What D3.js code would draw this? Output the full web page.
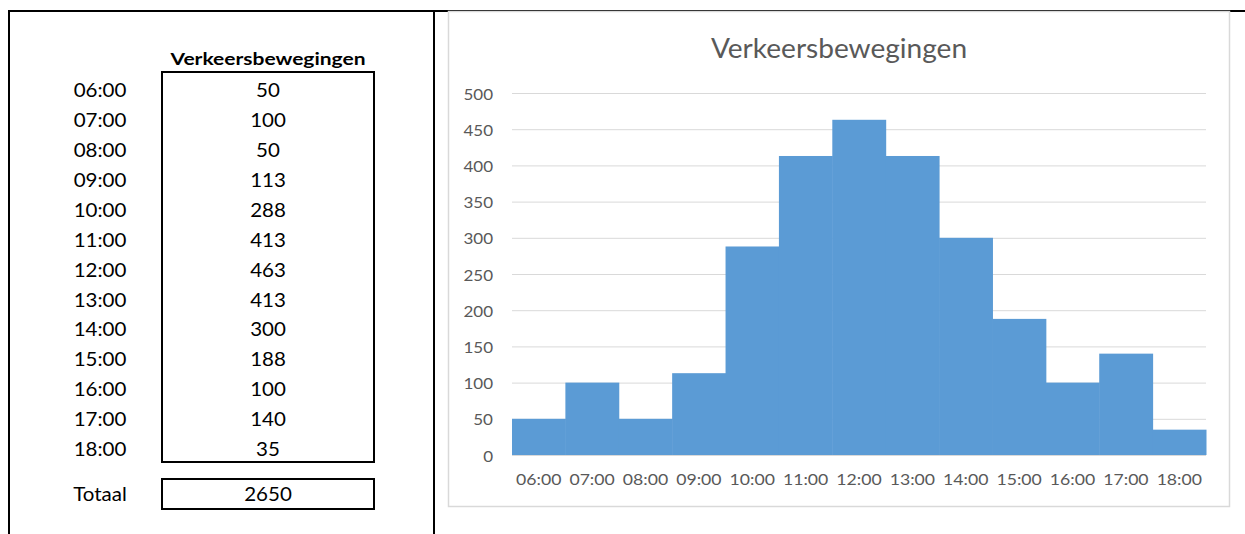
<!DOCTYPE html>
<html>
<head>
<meta charset="utf-8">
<script src="https://cdn.jsdelivr.net/npm/d3@7"></script>
<style>
  html, body { margin: 0; padding: 0; background: #fff; }
  svg { display: block; }
  text { font-family: Lato, "Open Sans", sans-serif; }
</style>
</head>
<body>
<svg id="chart" width="1245" height="534"></svg>
<script>
// Hourly traffic movements
const hours = ["06:00","07:00","08:00","09:00","10:00","11:00","12:00","13:00","14:00","15:00","16:00","17:00","18:00"];
const movements = [50, 100, 50, 113, 288, 413, 463, 413, 300, 188, 100, 140, 35];
const yTicks = [0, 50, 100, 150, 200, 250, 300, 350, 400, 450, 500];
const title = "Verkeersbewegingen";
const totalLabel = "Totaal";
const totalValue = 2650; // total as entered in the sheet

const svg = d3.select("#chart");

// place a text at (x, y) with a horizontal stretch
function place(sel, x, y, sx) {
  sel.attr("x", 0).attr("y", 0)
    .attr("transform", (d, i) => {
      const px = typeof x === "function" ? x(d, i) : x;
      const py = typeof y === "function" ? y(d, i) : y;
      return `translate(${px},${py}) scale(${sx},1)`;
    });
  return sel;
}

// ---- sheet frame lines ----
svg.append("line").attr("x1", 8).attr("x2", 1245).attr("y1", 11).attr("y2", 11)
  .attr("stroke", "#000").attr("stroke-width", 2);
svg.append("line").attr("x1", 9).attr("x2", 9).attr("y1", 10).attr("y2", 534)
  .attr("stroke", "#000").attr("stroke-width", 2);
svg.append("line").attr("x1", 434).attr("x2", 434).attr("y1", 10).attr("y2", 534)
  .attr("stroke", "#000").attr("stroke-width", 2);

// ---- table on the left ----
const table = svg.append("g");
const rowY = d3.scalePoint().domain(hours).range([90, 449]);
const tableFont = 18.5;
const tableStretch = 1.11;

table.append("text")
  .attr("text-anchor", "middle").attr("dominant-baseline", "central")
  .attr("font-weight", "bold").attr("font-size", 17.5).attr("fill", "#000")
  .text(title)
  .call(place, 268, 58, 1.2);

table.append("rect").attr("x", 162).attr("y", 72).attr("width", 212).attr("height", 390)
  .attr("fill", "none").attr("stroke", "#000").attr("stroke-width", 2);

table.selectAll("text.hour").data(hours).join("text")
  .attr("class", "hour")
  .attr("text-anchor", "middle").attr("dominant-baseline", "central")
  .attr("font-size", tableFont).attr("fill", "#000")
  .text(d => d)
  .call(place, 100, d => rowY(d), tableStretch);

table.selectAll("text.val").data(movements).join("text")
  .attr("class", "val")
  .attr("text-anchor", "middle").attr("dominant-baseline", "central")
  .attr("font-size", tableFont).attr("fill", "#000")
  .text(d => d)
  .call(place, 268, (d, i) => rowY(hours[i]), tableStretch);

table.append("rect").attr("x", 162).attr("y", 479).attr("width", 212).attr("height", 30)
  .attr("fill", "none").attr("stroke", "#000").attr("stroke-width", 2);
table.append("text")
  .attr("text-anchor", "middle").attr("dominant-baseline", "central")
  .attr("font-size", tableFont).attr("fill", "#000").text(totalLabel)
  .call(place, 100, 494, tableStretch);
table.append("text")
  .attr("text-anchor", "middle").attr("dominant-baseline", "central")
  .attr("font-size", tableFont).attr("fill", "#000").text(totalValue)
  .call(place, 268, 494, tableStretch);

// ---- chart on the right ----
svg.append("rect").attr("x", 448.5).attr("y", 11.5).attr("width", 781).attr("height", 495)
  .attr("fill", "#fff").attr("stroke", "#d9d9d9").attr("stroke-width", 1.5);

const plot = { left: 512, right: 1206, top: 93, bottom: 455 };
const x = d3.scaleBand().domain(hours).range([plot.left, plot.right]).padding(0);
const y = d3.scaleLinear().domain([0, 500]).range([plot.bottom, plot.top]);

const g = svg.append("g");

// gridlines
g.append("g").attr("transform", `translate(${plot.left},0)`)
  .call(d3.axisLeft(y).tickValues(yTicks).tickSize(-(plot.right - plot.left)).tickFormat(""))
  .call(s => s.select(".domain").remove())
  .call(s => s.selectAll("line").attr("stroke", "#d9d9d9").attr("stroke-width", 1));

// bars
g.selectAll("rect.bar").data(movements).join("rect")
  .attr("class", "bar")
  .attr("x", (d, i) => x(hours[i]))
  .attr("width", x.bandwidth() + 0.5)
  .attr("y", d => y(d))
  .attr("height", d => y(0) - y(d))
  .attr("fill", "#5b9bd5");

// baseline
g.append("line").attr("x1", plot.left).attr("x2", plot.right)
  .attr("y1", y(0) + 0.5).attr("y2", y(0) + 0.5)
  .attr("stroke", "#d9d9d9").attr("stroke-width", 1);

// y axis labels
g.append("g").attr("transform", `translate(${plot.left - 19},0)`)
  .call(d3.axisLeft(y).tickValues(yTicks).tickSize(0).tickPadding(0))
  .call(s => s.select(".domain").remove())
  .call(s => s.selectAll("text")
    .attr("x", 0).attr("dy", null).attr("dominant-baseline", "central")
    .attr("transform", "scale(1.15,1)")
    .attr("font-family", "Lato, sans-serif")
    .attr("font-size", 14.8).attr("fill", "#595959").attr("text-anchor", "end"));

// x axis labels
g.append("g").attr("transform", `translate(0,${plot.bottom})`)
  .call(d3.axisBottom(x).tickSize(0).tickPadding(0))
  .call(s => s.select(".domain").remove())
  .call(s => s.selectAll("text")
    .attr("y", 0).attr("dy", null).attr("dominant-baseline", "central")
    .attr("transform", "translate(0,24) scale(1.09,1)")
    .attr("font-family", "Lato, sans-serif")
    .attr("font-size", 16.2).attr("fill", "#595959"));

// title
svg.append("text")
  .attr("text-anchor", "middle").attr("dominant-baseline", "central")
  .attr("font-size", 27).attr("fill", "#595959")
  .text(title)
  .call(place, 839, 48, 1.04);
</script>
</body>
</html>
